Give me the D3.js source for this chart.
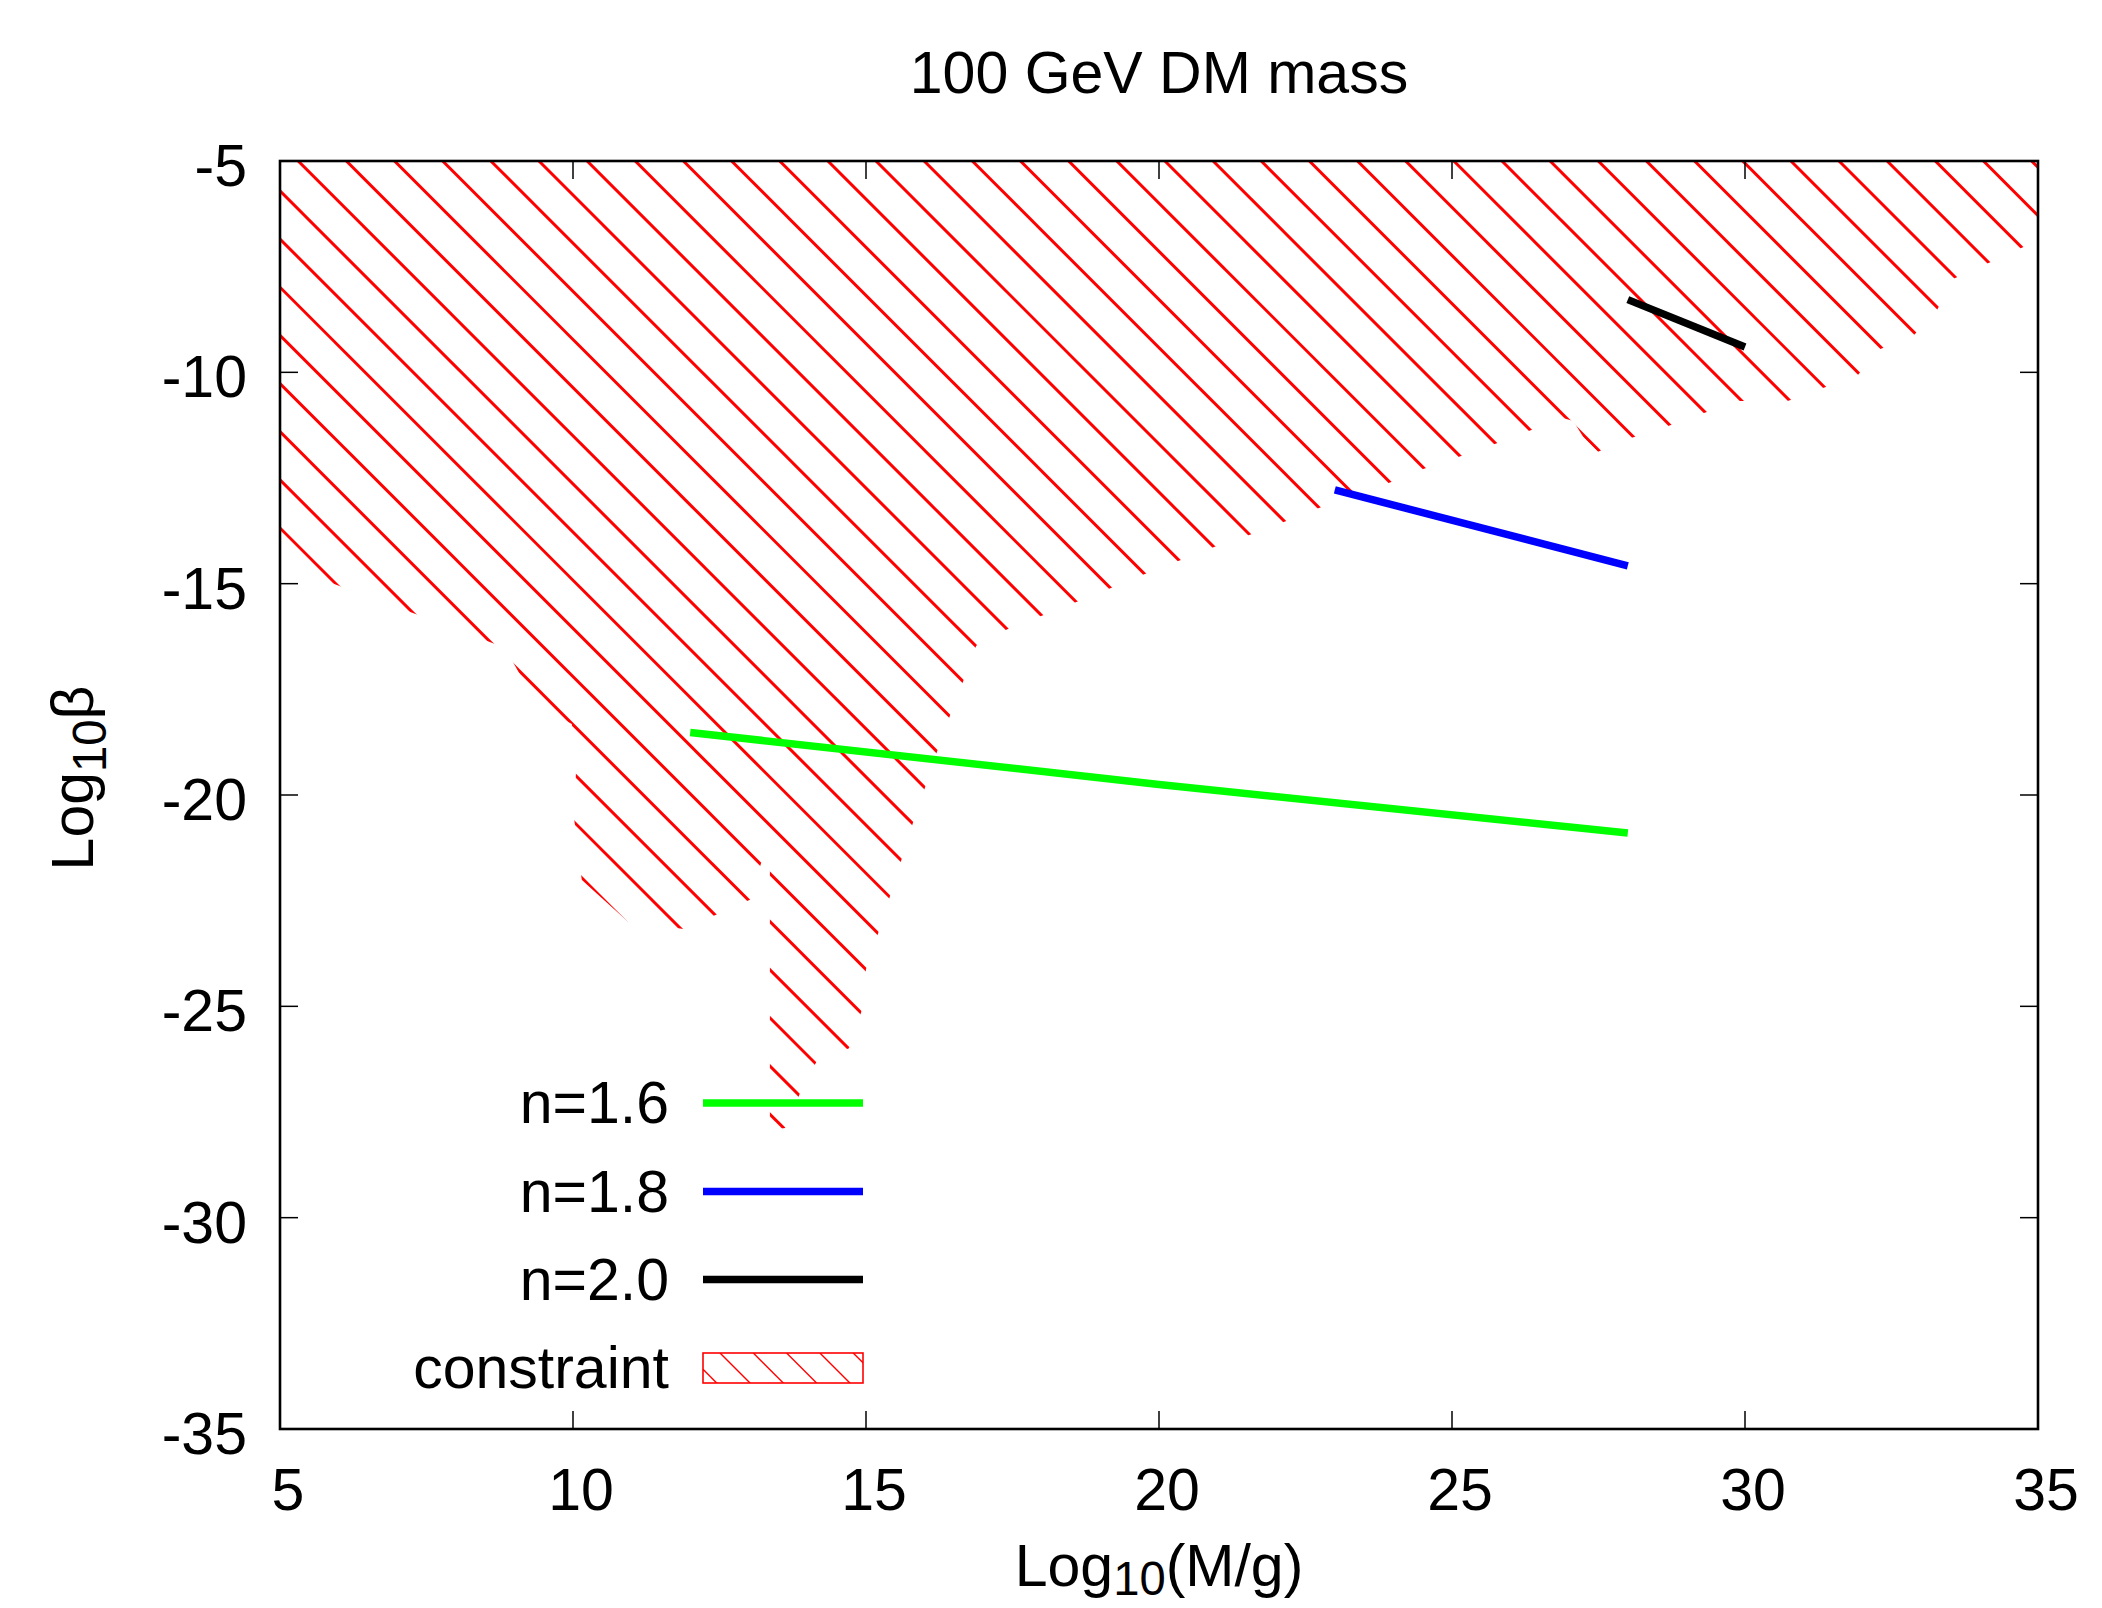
<!DOCTYPE html>
<html><head><meta charset="utf-8">
<script src="https://cdn.jsdelivr.net/npm/d3@7/dist/d3.min.js"></script>
<style>
body{margin:0;background:#fff}
svg{display:block}
text{font-family:"Liberation Sans",Arial,Helvetica,sans-serif;fill:#000}
</style>
</head><body>
<svg id="chart" width="2102" height="1608"></svg>
<script>
// ---------------- data ----------------
const chartTitle = "100 GeV DM mass";
const xTicks = [5, 10, 15, 20, 25, 30, 35];
const yTicks = [-5, -10, -15, -20, -25, -30, -35];

// lower edge of the excluded ("constraint") region, left to right
const constraintX = [5, 6.05, 7.36, 8.67, 8.86, 9.10, 9.86, 9.98, 10.05, 10.02, 10.15, 10.94, 11.89, 12.46, 13.02, 13.21, 13.28, 13.36, 13.36, 13.62, 13.87, 14.15, 14.71, 14.92, 15.0, 15.21, 15.41, 15.61, 15.8, 16.01, 16.21, 16.43, 16.66, 16.88, 17.42, 18.0, 18.6, 19.18, 19.76, 20.34, 20.94, 21.54, 22.13, 22.73, 23.33, 23.92, 24.51, 25.12, 25.72, 26.31, 26.89, 27.07, 27.24, 27.49, 28.07, 28.69, 29.3, 29.9, 30.73, 31.33, 31.91, 32.27, 32.88, 33.26, 33.55, 34.11, 34.68, 35];
const constraintY = [-14.53, -15.07, -15.74, -16.43, -16.57, -17.16, -18.23, -18.32, -19.48, -20.57, -22.01, -23.0, -23.17, -22.82, -22.48, -21.61, -21.58, -21.8, -27.93, -27.88, -27.07, -26.32, -25.99, -25.13, -24.12, -23.26, -22.39, -21.51, -20.66, -19.81, -18.98, -18.13, -17.3, -16.47, -16.07, -15.76, -15.43, -15.1, -14.77, -14.46, -14.13, -13.85, -13.54, -13.21, -12.9, -12.62, -12.29, -12.0, -11.7, -11.39, -11.08, -11.15, -11.53, -11.88, -11.55, -11.27, -10.96, -10.68, -10.68, -10.37, -10.09, -9.47, -9.12, -8.57, -7.79, -7.44, -7.08, -6.87];
const constraintTop = -5;

const n16X = [12, 20, 28];
const n16Y = [-18.52, -19.75, -20.9];
const n18X = [23.0, 28.0];
const n18Y = [-12.78, -14.58];
const n20X = [28.0, 30.0];
const n20Y = [-8.28, -9.4];

const seriesNames = ["n=1.6", "n=1.8", "n=2.0", "constraint"];
const seriesColors = ["#00ff00", "#0000ff", "#000000", "#ff0000"];

// ---------------- layout ----------------
const L = 280, R = 2038, T = 161, B = 1429;
const FS = 59;

const svg = d3.select("#chart");
const defs = svg.append("defs");

const x = d3.scaleLinear().domain([5, 35]).range([L, R]);
const y = d3.scaleLinear().domain([-35, -5]).range([B, T]);

// ---------------- constraint region (hatched) ----------------
const boundary = constraintX.map((v, i) => [v, constraintY[i]]);
const poly = [[constraintX[0], constraintTop], [constraintX[constraintX.length - 1], constraintTop]]
  .concat(boundary.slice().reverse());
const polyLine = d3.line().x(d => x(d[0])).y(d => y(d[1]));

defs.append("clipPath").attr("id", "constraintClip")
  .append("path").attr("d", polyLine(poly) + "Z");

const hatch = svg.append("g").attr("clip-path", "url(#constraintClip)");
const spacing = 48.15, phase = 18.2;
for (let k = -35; k < 40; k++) {
  const x0 = L + phase + k * spacing;
  hatch.append("line")
    .attr("x1", x0).attr("y1", T)
    .attr("x2", x0 + 1400).attr("y2", T + 1400)
    .attr("stroke", seriesColors[3]).attr("stroke-width", 3);
}

// ---------------- curves ----------------
const curves = [
  {xs: n16X, ys: n16Y, c: seriesColors[0]},
  {xs: n18X, ys: n18Y, c: seriesColors[1]},
  {xs: n20X, ys: n20Y, c: seriesColors[2]}
];
const line = d3.line().x(d => x(d[0])).y(d => y(d[1]));
curves.forEach(s => {
  svg.append("path")
    .attr("d", line(s.xs.map((v, i) => [v, s.ys[i]])))
    .attr("fill", "none").attr("stroke", s.c)
    .attr("stroke-width", 7.5).attr("stroke-linecap", "butt");
});

// ---------------- axes / frame ----------------
const axG = svg.append("g");
const tickLen = 18;
xTicks.forEach(t => {
  axG.append("line").attr("x1", x(t)).attr("x2", x(t)).attr("y1", B).attr("y2", B - tickLen)
    .attr("stroke", "#000").attr("stroke-width", 1.5);
  axG.append("line").attr("x1", x(t)).attr("x2", x(t)).attr("y1", T).attr("y2", T + tickLen)
    .attr("stroke", "#000").attr("stroke-width", 1.5);
  axG.append("text").attr("x", x(t) + 8).attr("y", 1510)
    .attr("text-anchor", "middle").attr("font-size", FS).text(t);
});
yTicks.forEach(t => {
  axG.append("line").attr("x1", L).attr("x2", L + tickLen).attr("y1", y(t)).attr("y2", y(t))
    .attr("stroke", "#000").attr("stroke-width", 1.5);
  axG.append("line").attr("x1", R).attr("x2", R - tickLen).attr("y1", y(t)).attr("y2", y(t))
    .attr("stroke", "#000").attr("stroke-width", 1.5);
  axG.append("text").attr("x", 247).attr("y", y(t) + 25)
    .attr("text-anchor", "end").attr("font-size", FS).text(t);
});
axG.append("rect").attr("x", L).attr("y", T).attr("width", R - L).attr("height", B - T)
  .attr("fill", "none").attr("stroke", "#000").attr("stroke-width", 2.6);

// ---------------- titles ----------------
svg.append("text").attr("x", (L + R) / 2).attr("y", 93)
  .attr("text-anchor", "middle").attr("font-size", FS).text(chartTitle);

const xl = svg.append("text").attr("x", (L + R) / 2).attr("y", 1586)
  .attr("text-anchor", "middle").attr("font-size", FS);
xl.append("tspan").text("Log");
xl.append("tspan").attr("font-size", FS * 0.8).attr("dy", 9).text("10");
xl.append("tspan").attr("dy", -9).text("(M/g)");

const yl = svg.append("text").attr("transform", "translate(93,778) rotate(-90)")
  .attr("text-anchor", "middle").attr("font-size", FS);
yl.append("tspan").text("Log");
yl.append("tspan").attr("font-size", FS * 0.8).attr("dy", 13).text("10");
yl.append("tspan").attr("dy", -13).text("β");

// ---------------- legend ----------------
const lg = svg.append("g");
const legTextX = 669, legX1 = 703, legX2 = 863;
const legBase = [1123, 1211.5, 1299.5, 1388];
seriesNames.forEach((name, i) => {
  lg.append("text").attr("x", legTextX).attr("y", legBase[i])
    .attr("text-anchor", "end").attr("font-size", FS).text(name);
  if (i < 3) {
    lg.append("line").attr("x1", legX1).attr("x2", legX2)
      .attr("y1", legBase[i] - 20).attr("y2", legBase[i] - 20)
      .attr("stroke", seriesColors[i]).attr("stroke-width", 7.5);
  } else {
    const bx = legX1, by = legBase[i] - 35, bw = legX2 - legX1, bh = 30;
    defs.append("clipPath").attr("id", "legClip")
      .append("rect").attr("x", bx).attr("y", by).attr("width", bw).attr("height", bh);
    const lh = lg.append("g").attr("clip-path", "url(#legClip)");
    for (let k = -2; k < 8; k++) {
      const x0 = 720 + k * 33.3;
      lh.append("line").attr("x1", x0).attr("y1", by).attr("x2", x0 + 60).attr("y2", by + 60)
        .attr("stroke", seriesColors[3]).attr("stroke-width", 1.4);
    }
    lg.append("rect").attr("x", bx).attr("y", by).attr("width", bw).attr("height", bh)
      .attr("fill", "none").attr("stroke", seriesColors[3]).attr("stroke-width", 1.6);
  }
});
</script>
</body></html>
